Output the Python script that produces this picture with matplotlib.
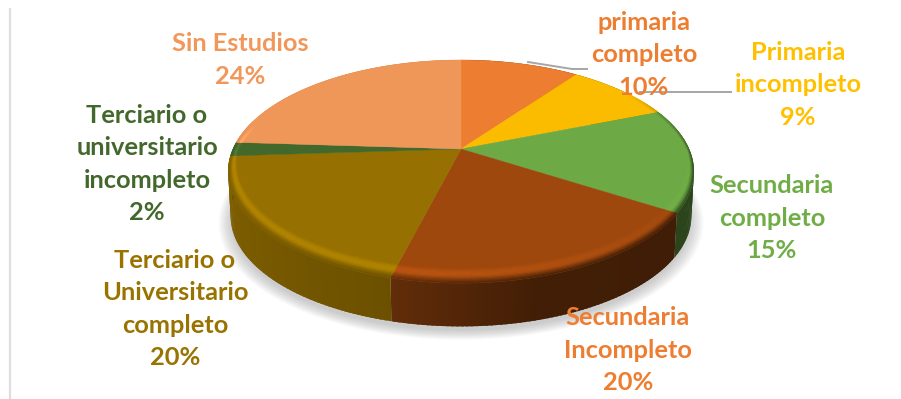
import numpy as np
import matplotlib
matplotlib.use('Agg')
from matplotlib import pyplot as plt
from matplotlib.collections import PolyCollection
from matplotlib.colors import to_rgb

# Datos del grafico (sentido horario desde arriba)
categorias = ['primaria\ncompleto', 'Primaria\nincompleto', 'Secundaria\ncompleto',
              'Secundaria\nIncompleto', 'Terciario o\nUniversitario\ncompleto',
              'Terciario o\nuniversitario\nincompleto', 'Sin Estudios']
valores = [10, 9, 15, 20, 20, 2, 24]

colores = ['#ED7D31', '#FBBC00', '#6DAA45', '#9E480E', '#967000', '#43682B', '#EF9659']
colores_texto = ['#ED7D31', '#FFC000', '#70AD47', '#ED7D31', '#997300', '#43682B', '#F1975A']
pos_x = [644, 798, 772, 628, 175, 147, 240]
pos_y = [55, 85, 218, 350, 309, 164, 60]

# Geometria del disco en pixeles
CX, CY = 461, 149
A, B, K = 228, 107, 0.202
ALTO = 45


def proyectar(r, theta, caida=0.0, escala=1.0):
    # theta en radianes, horario desde arriba; K da la perspectiva
    u = r * escala * np.sin(theta)
    v = r * escala * np.cos(theta)
    w = 1 + K * v
    return CX + A * u / w, CY - B * v / w + caida


def mezclar(c1, c2, t):
    return tuple(np.array(c1) * (1 - t) + np.array(c2) * t)


fig = plt.figure(figsize=(9.01, 3.99), dpi=100)
ax = fig.add_axes([0, 0, 1, 1])
ax.set_xlim(0, 901)
ax.set_ylim(399, 0)
ax.axis('off')

# Linea gris a la izquierda
ax.plot([10, 10], [9, 399], color='#dedede', lw=1.6, zorder=1)

# Sombra difusa bajo el disco
t_todo = np.radians(np.linspace(0, 360, 361))
for i in range(14):
    sx, sy = proyectar(1.0, t_todo, caida=ALTO + 5, escala=0.985 + i * 0.0042)
    ax.fill(sx, sy, color='#8c8c8c', alpha=0.035, lw=0, zorder=2)

cortes = np.cumsum([0] + valores) / sum(valores) * 360

# Lateral del disco: degradado con tramos solapados para no dejar juntas
oscuro_ang = [0, 90, 125, 165, 194, 195, 230, 270, 360]
oscuro_val = [0.40, 0.40, 0.40, 0.42, 0.62, 0.72, 0.80, 0.86, 0.86]
zlat = 3.0
for i in range(len(valores)):
    base = to_rgb(colores[i])
    angs = np.arange(cortes[i], cortes[i + 1] + 0.01, 1.0)
    if angs[-1] < cortes[i + 1]:
        angs = np.append(angs, cortes[i + 1])
    polys, cols = [], []
    for a0, a1 in zip(angs[:-1], angs[1:]):
        t0 = np.radians(a0)
        t1 = np.radians(min(a1 + 0.7, cortes[i + 1]))
        x0, y0 = proyectar(1.0, t0)
        x1, y1 = proyectar(1.0, t1)
        x2, y2 = proyectar(1.0, t1, caida=ALTO, escala=0.99)
        x3, y3 = proyectar(1.0, t0, caida=ALTO, escala=0.99)
        polys.append([(x0, y0), (x1, y1), (x2, y2), (x3, y3)])
        f = np.interp((a0 + a1) / 2, oscuro_ang, oscuro_val)
        cols.append(tuple(np.array(base) * f))
    ax.add_collection(PolyCollection(polys, facecolors=cols, edgecolors='none', linewidths=0, zorder=zlat))

# Cara superior del disco
for i in range(len(valores)):
    angs = np.radians(np.linspace(cortes[i], cortes[i + 1], 90))
    x, y = proyectar(1.0, angs)
    ax.fill(np.r_[CX, x], np.r_[CY, y], color=colores[i], lw=0.3, zorder=4)

# Bisel del borde: brillo y caida hacia el lateral
brillo_ang = [0, 90, 125, 190, 270, 285, 360]
brillo_val = [0, 0, 0.04, 0.18, 0.20, 0, 0]
tapa_ang = [0, 55, 100, 260, 285, 360]
tapa_val = [0, 0, 1, 1, 0, 0]
polys, cols = [], []
pasos = 12
for i in range(len(valores)):
    base = to_rgb(colores[i])
    angs = np.arange(cortes[i], cortes[i + 1] + 0.01, 1.5)
    if angs[-1] < cortes[i + 1]:
        angs = np.append(angs, cortes[i + 1])
    for a0, a1 in zip(angs[:-1], angs[1:]):
        am = (a0 + a1) / 2
        tapa = np.interp(am, tapa_ang, tapa_val)
        if tapa == 0:
            continue
        t0, t1 = np.radians(a0), np.radians(a1)
        ancho = 0.025 + 0.065 * abs(np.cos(np.radians(am)))
        brillo = np.interp(am, brillo_ang, brillo_val)
        lado = tuple(np.array(base) * np.interp(am, oscuro_ang, oscuro_val))
        for j in range(pasos):
            s0, s1 = j / pasos, (j + 1) / pasos
            r0, r1 = 1 - ancho * (1 - s0), 1 - ancho * (1 - s1)
            xa, ya = proyectar(r0, t0)
            xb, yb = proyectar(r0, t1)
            xc, yc = proyectar(r1, t1)
            xd, yd = proyectar(r1, t0)
            s = (s0 + s1) / 2
            claro = tuple(np.clip(np.array(base) * (1 + brillo * np.sin(np.pi * min(s / 0.75, 1.0))), 0, 1))
            baja = tapa * max(0.0, (s - 0.55) / 0.45) ** 1.3
            polys.append([(xa, ya), (xb, yb), (xc, yc), (xd, yd)])
            cols.append(mezclar(claro, lado, baja))
ax.add_collection(PolyCollection(polys, facecolors=cols, edgecolors=cols, linewidths=0.3, zorder=5))

# Lineas guia de las etiquetas
ax.plot([528, 572, 587], [62, 69, 69], color='#a6a6a6', lw=1.4, zorder=6)
ax.plot([640, 731], [92, 92], color='#a6a6a6', lw=1.4, zorder=6)

# Etiquetas
for i in range(len(valores)):
    ax.text(pos_x[i], pos_y[i], categorias[i] + '\n' + str(valores[i]) + '%', color=colores_texto[i],
            family='Lato', fontweight='bold', fontsize=18.3, ha='center', va='center',
            linespacing=1.49, zorder=7)

fig.savefig('out.png', dpi=100)
